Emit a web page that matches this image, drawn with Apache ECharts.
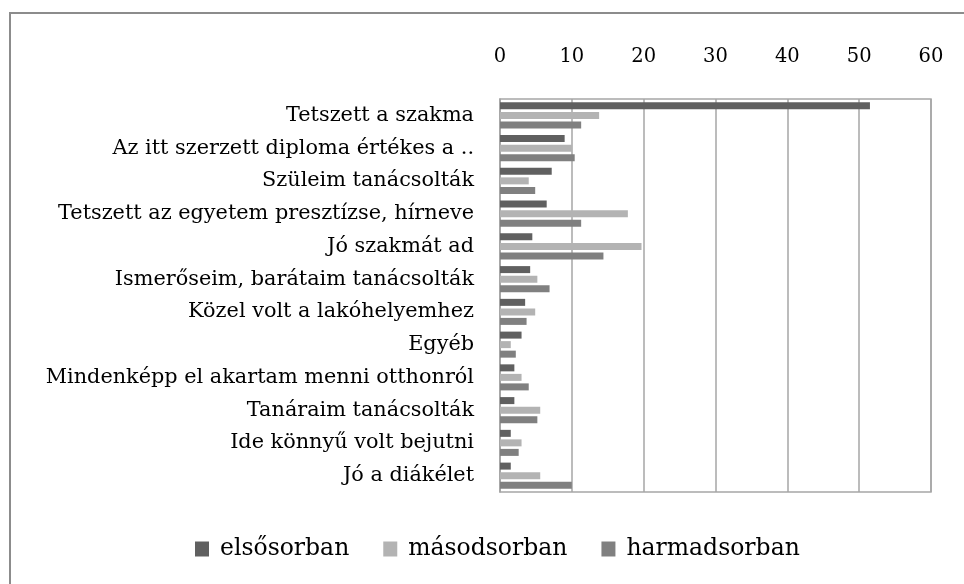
<!DOCTYPE html>
<html>
<head>
<meta charset="utf-8">
<script src="https://cdn.jsdelivr.net/npm/echarts@6/dist/echarts.min.js"></script>
<style>
  html, body { margin: 0; padding: 0; background: #fff; }
  #chart { width: 964px; height: 584px; }
</style>
</head>
<body>
<div id="chart"></div>
<script>
const categories = [
  'Tetszett a szakma',
  'Az itt szerzett diploma értékes a ..',
  'Szüleim tanácsolták',
  'Tetszett az egyetem presztízse, hírneve',
  'Jó szakmát ad',
  'Ismerőseim, barátaim tanácsolták',
  'Közel volt a lakóhelyemhez',
  'Egyéb',
  'Mindenképp el akartam menni otthonról',
  'Tanáraim tanácsolták',
  'Ide könnyű volt bejutni',
  'Jó a diákélet'
]
const elsosorban = [51.5, 9, 7.2, 6.5, 4.5, 4.2, 3.5, 3, 2, 2, 1.5, 1.5]
const masodsorban = [13.8, 10, 4, 17.8, 19.7, 5.2, 4.9, 1.5, 3, 5.6, 3, 5.6]
const harmadsorban = [11.3, 10.4, 4.9, 11.3, 14.4, 6.9, 3.7, 2.2, 4, 5.2, 2.6, 10]
const xTicks = [0, 10, 20, 30, 40, 50, 60]

const font = 'DejaVu Serif'
const chart = echarts.init(document.getElementById('chart'))

const bar = (name, data, color) => ({
  name,
  type: 'bar',
  data,
  barWidth: 7,
  barGap: '36%',
  itemStyle: { color },
  emphasis: { disabled: true }
})

chart.setOption({
  animation: false,
  graphic: [{
    type: 'rect',
    shape: { x: 10, y: 13, width: 1000, height: 620 },
    style: { fill: 'none', stroke: '#8c8c8c', lineWidth: 2 },
    silent: true
  }],
  grid: {
    left: 500,
    top: 99,
    width: 431,
    height: 393,
    show: true,
    borderColor: '#a6a6a6',
    borderWidth: 1.5
  },
  xAxis: {
    type: 'value',
    position: 'top',
    min: xTicks[0],
    max: xTicks[xTicks.length - 1],
    interval: 10,
    axisLine: { show: false },
    axisTick: { show: false },
    splitLine: { lineStyle: { color: '#a6a6a6', width: 1.5 } },
    axisLabel: { color: '#000', fontFamily: font, fontSize: 19.5, margin: 32 }
  },
  yAxis: {
    type: 'category',
    data: categories,
    inverse: true,
    axisLine: { show: true, lineStyle: { color: '#a6a6a6', width: 1.5 } },
    axisTick: { show: false },
    axisLabel: { color: '#000', fontFamily: font, fontSize: 20.8, margin: 26 }
  },
  legend: {
    top: 532,
    left: 190,
    itemWidth: 14,
    itemHeight: 15,
    itemGap: 34,
    icon: 'rect',
    textStyle: { color: '#000', fontFamily: font, fontSize: 23.5, padding: [0, 0, 0, 6] },
    data: ['elsősorban', 'másodsorban', 'harmadsorban']
  },
  series: [
    bar('elsősorban', elsosorban, '#606060'),
    bar('másodsorban', masodsorban, '#b3b3b3'),
    bar('harmadsorban', harmadsorban, '#808080')
  ]
})
</script>
</body>
</html>
